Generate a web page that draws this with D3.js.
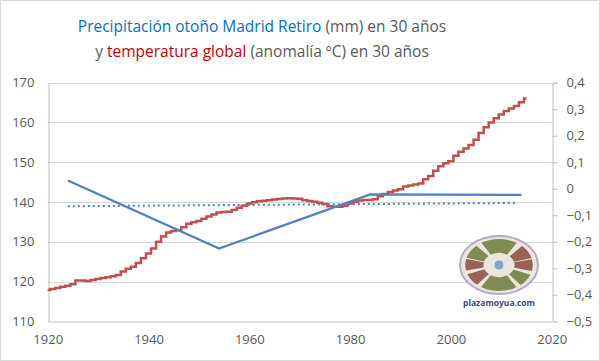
<!DOCTYPE html>
<html>
<head>
<meta charset="utf-8">
<script src="https://cdn.jsdelivr.net/npm/d3@7"></script>
<style>
  body { margin: 0; background: #fff; }
  svg { display: block; font-family: "Open Sans", sans-serif; }
</style>
</head>
<body>
<div class="chart"></div>
<script>
// Precipitación otoño Madrid Retiro vs temperatura global (medias 30 años)

var precipYears = [1924, 1954, 1984, 2014];
var precipValues = [145.4, 128.3, 141.9, 141.8];

var tempStartYear = 1920;
var tempValues = [
  -0.382, -0.378, -0.374, -0.370, -0.366, -0.360, -0.346, -0.346, -0.348, -0.344,
  -0.340, -0.337, -0.334, -0.330, -0.325, -0.312, -0.302, -0.294, -0.280, -0.262,
  -0.244, -0.225, -0.200, -0.180, -0.165, -0.159, -0.156, -0.145, -0.132, -0.126,
  -0.122, -0.113, -0.105, -0.097, -0.090, -0.088, -0.087, -0.080, -0.072, -0.064,
  -0.056, -0.051, -0.047, -0.045, -0.043, -0.041, -0.039, -0.037, -0.036, -0.037,
  -0.038, -0.043, -0.046, -0.049, -0.053, -0.058, -0.066, -0.068, -0.068, -0.064,
  -0.056, -0.049, -0.044, -0.042, -0.042, -0.040, -0.028, -0.020, -0.012, -0.007,
  -0.002, 0.008, 0.012, 0.016, 0.020, 0.036, 0.048, 0.068, 0.085, 0.096,
  0.104, 0.124, 0.140, 0.152, 0.165, 0.185, 0.210, 0.232, 0.250, 0.266,
  0.280, 0.293, 0.303, 0.312, 0.326, 0.340
];

var xTicks = [1920, 1940, 1960, 1980, 2000, 2020];
var leftTicks = [110, 120, 130, 140, 150, 160, 170];
var rightTicks = [-0.5, -0.4, -0.3, -0.2, -0.1, 0, 0.1, 0.2, 0.3, 0.4];

var W = 600, H = 361;
var pLeft = 47.7, pRight = 551.7, pTop = 82.7, pBottom = 321.3;

var svg = d3.select('.chart').append('svg')
  .attr('width', W)
  .attr('height', H);

svg.append('rect')
  .attr('x', 0.5).attr('y', 0.5)
  .attr('width', W - 1).attr('height', H - 1)
  .attr('fill', '#fff')
  .attr('stroke', '#d9d9d9');

var x = d3.scaleLinear().domain([1920, 2020]).range([pLeft, pRight]);
var yL = d3.scaleLinear().domain([110, 170]).range([pBottom, pTop]);
var yR = d3.scaleLinear().domain([-0.5, 0.4]).range([pBottom, pTop]);

var fmtR = function (d) { return Math.abs(d) < 1e-9 ? '0' : d3.format('.1f')(d).replace('.', ','); };

// grid
svg.append('g')
  .selectAll('line')
  .data(leftTicks.slice(1))
  .enter()
    .append('line')
    .attr('x1', pLeft).attr('x2', pRight)
    .attr('y1', d => Math.round(yL(d)) + 0.5)
    .attr('y2', d => Math.round(yL(d)) + 0.5)
    .attr('stroke', '#d9d9d9');

// left axis
var gL = svg.append('g')
  .attr('transform', 'translate(' + (Math.round(pLeft) + 0.5) + ',0)')
  .call(d3.axisLeft(yL).tickValues(leftTicks).tickSize(0).tickPadding(14));
gL.select('.domain').attr('stroke', '#bfbfbf');

// right axis
var gR = svg.append('g')
  .attr('transform', 'translate(' + (Math.round(pRight) + 0.5) + ',0)')
  .call(d3.axisRight(yR).tickValues(rightTicks).tickSize(5).tickPadding(9).tickFormat(fmtR));
gR.select('.domain').attr('stroke', '#bfbfbf');
gR.selectAll('.tick line').attr('stroke', '#bfbfbf');

// bottom axis
var gB = svg.append('g')
  .attr('transform', 'translate(0,' + (Math.round(pBottom) + 0.5) + ')')
  .call(d3.axisBottom(x).tickValues(xTicks).tickSize(0).tickPadding(13).tickFormat(d3.format('d')));
gB.select('.domain').attr('stroke', '#bfbfbf');

svg.selectAll('.tick text')
  .attr('fill', '#595959')
  .style('font-size', '13px')
  .style('font-family', '"Open Sans", sans-serif');

// temperature step line
var temp = tempValues.map((v, i) => ({ year: tempStartYear + i, v: v }));
svg.append('path')
  .datum(temp)
  .attr('fill', 'none')
  .attr('stroke', '#c0504d')
  .attr('stroke-width', 2.5)
  .attr('d', d3.line().curve(d3.curveStep).x(d => x(d.year)).y(d => yR(d.v)));

// precipitation line
var precip = precipYears.map((yr, i) => ({ year: yr, v: precipValues[i] }));
svg.append('path')
  .datum(precip)
  .attr('fill', 'none')
  .attr('stroke', '#4f81bd')
  .attr('stroke-width', 2.2)
  .attr('d', d3.line().x(d => x(d.year)).y(d => yL(d.v)));

// linear trend of precipitation
var mx = d3.mean(precipYears), my = d3.mean(precipValues);
var slope = d3.sum(precipYears, (yr, i) => (yr - mx) * (precipValues[i] - my)) /
            d3.sum(precipYears, yr => (yr - mx) * (yr - mx));
var trend = [precipYears[0], precipYears[precipYears.length - 1] - 1]
  .map(yr => ({ year: yr, v: my + slope * (yr - mx) }));
svg.append('path')
  .datum(trend)
  .attr('fill', 'none')
  .attr('stroke', '#4f81bd')
  .attr('stroke-width', 2)
  .attr('stroke-dasharray', '2,3')
  .attr('d', d3.line().x(d => x(d.year)).y(d => yL(d.v)));

// title
var title = svg.append('text')
  .attr('text-anchor', 'middle')
  .style('font-size', '15.5px');
var l1 = title.append('tspan').attr('x', 262).attr('y', 32);
l1.append('tspan').attr('fill', '#0070c0').text('Precipitación otoño Madrid Retiro');
l1.append('tspan').attr('fill', '#595959').text(' (mm) en 30 años');
var l2 = title.append('tspan').attr('x', 262).attr('y', 57);
l2.append('tspan').attr('fill', '#595959').text('y ');
l2.append('tspan').attr('fill', '#c00000').text('temperatura global');
l2.append('tspan').attr('fill', '#595959').text(' (anomalía ºC) en 30 años');

// logo plazamoyua
var logo = svg.append('g').attr('transform', 'translate(499,265)');
logo.append('ellipse')
  .attr('rx', 39).attr('ry', 29)
  .attr('fill', '#ece6de')
  .attr('stroke', '#b4aac8')
  .attr('stroke-width', 2);
var segs = [
  { a0: -0.55, a1: 0.55, c: '#6b7a3a' },
  { a0: 0.75, a1: 1.3, c: '#8a4a3e' },
  { a0: 1.35, a1: 1.8, c: '#8a4a3e' },
  { a0: 1.95, a1: 2.45, c: '#6b7a3a' },
  { a0: 2.6, a1: 3.7, c: '#6b7a3a' },
  { a0: 3.85, a1: 4.35, c: '#8a4a3e' },
  { a0: 4.5, a1: 4.95, c: '#8a4a3e' },
  { a0: 5.0, a1: 5.55, c: '#6b7a3a' }
];
var arc = d3.arc().innerRadius(12).outerRadius(26);
logo.append('g')
  .attr('transform', 'scale(1.3,1)')
  .selectAll('path')
  .data(segs)
  .enter()
    .append('path')
    .attr('d', d => arc({ startAngle: d.a0, endAngle: d.a1 }))
    .attr('fill', d => d.c)
    .attr('opacity', 0.85);
logo.append('circle').attr('r', 5).attr('fill', '#7fa6c9').attr('stroke', '#d8e4ee');
svg.append('text')
  .attr('x', 499).attr('y', 306)
  .attr('text-anchor', 'middle')
  .attr('fill', '#3b4a6b')
  .style('font-size', '8.5px')
  .style('font-weight', 'bold')
  .text('plazamoyua.com');
</script>
</body>
</html>
